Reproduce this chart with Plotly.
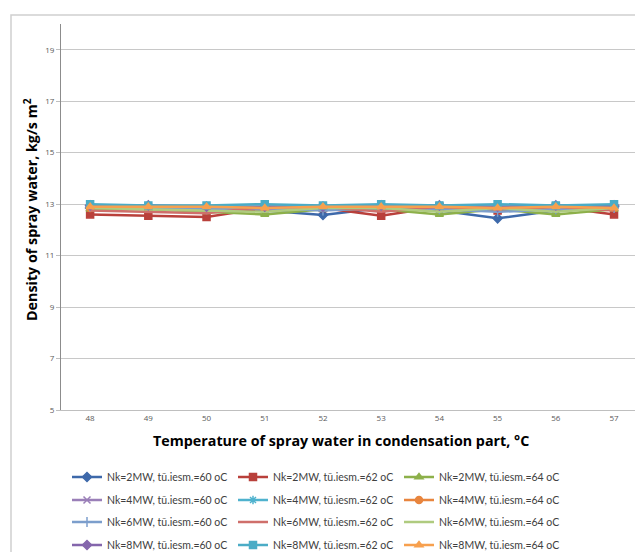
import plotly.graph_objects as go

temps = [48, 49, 50, 51, 52, 53, 54, 55, 56, 57]

names = [
    "Nk=2MW, tū.iesm.=60 oC", "Nk=2MW, tū.iesm.=62 oC", "Nk=2MW, tū.iesm.=64 oC",
    "Nk=4MW, tū.iesm.=60 oC", "Nk=4MW, tū.iesm.=62 oC", "Nk=4MW, tū.iesm.=64 oC",
    "Nk=6MW, tū.iesm.=60 oC", "Nk=6MW, tū.iesm.=62 oC", "Nk=6MW, tū.iesm.=64 oC",
    "Nk=8MW, tū.iesm.=60 oC", "Nk=8MW, tū.iesm.=62 oC", "Nk=8MW, tū.iesm.=64 oC",
]

s_2mw_60 = [12.85, 12.85, 12.80, 12.75, 12.58, 12.85, 12.75, 12.45, 12.75, 12.90]
s_2mw_62 = [12.60, 12.55, 12.50, 12.85, 12.85, 12.55, 12.90, 12.75, 12.90, 12.60]
s_2mw_64 = [12.80, 12.80, 12.70, 12.60, 12.80, 12.80, 12.60, 12.80, 12.60, 12.80]
s_4mw_60 = [12.90, 12.90, 12.85, 12.80, 12.85, 12.90, 12.95, 12.85, 12.90, 12.90]
s_4mw_62 = [12.95, 12.90, 12.90, 12.90, 12.90, 12.95, 12.90, 12.90, 12.90, 12.95]
s_4mw_64 = [12.85, 12.90, 12.85, 12.85, 12.90, 12.85, 12.85, 12.85, 12.90, 12.85]
s_6mw_60 = [12.90, 12.85, 12.80, 12.85, 12.75, 12.85, 12.80, 12.70, 12.80, 12.85]
s_6mw_62 = [12.75, 12.70, 12.65, 12.90, 12.90, 12.70, 12.90, 12.80, 12.90, 12.75]
s_6mw_64 = [12.85, 12.80, 12.75, 12.70, 12.85, 12.85, 12.70, 12.85, 12.70, 12.85]
s_8mw_60 = [12.95, 12.95, 12.90, 12.90, 12.90, 12.95, 12.95, 12.90, 12.95, 12.95]
s_8mw_62 = [13.00, 12.95, 12.95, 13.00, 12.95, 13.00, 12.95, 13.00, 12.95, 13.00]
s_8mw_64 = [12.90, 12.90, 12.90, 12.85, 12.90, 12.90, 12.90, 12.85, 12.90, 12.85]

series = [s_2mw_60, s_2mw_62, s_2mw_64, s_4mw_60, s_4mw_62, s_4mw_64,
          s_6mw_60, s_6mw_62, s_6mw_64, s_8mw_60, s_8mw_62, s_8mw_64]

y_ticks = [5, 7, 9, 11, 13, 15, 17, 19]

colors = ["#3E69AA", "#B9403B", "#8DB04A", "#9A7FB8", "#4FB2CE", "#E8853E",
          "#7C9ECC", "#CF6F6B", "#AFCB7F", "#8466AC", "#4BACC6", "#F7A04E"]
symbols = ["diamond", "square", "triangle-up", "x-thin", "asterisk", "circle",
           "cross-thin", None, None, "diamond", "square", "triangle-up"]

FONT = "Open Sans"

fig = go.Figure()
legend_ids = ["legend", "legend2", "legend3", "legend4"]
for i, (nm, ys) in enumerate(zip(names, series)):
    sym = symbols[i]
    mode = "lines+markers" if sym else "lines"
    marker = dict(color=colors[i], size=7, symbol=sym or "circle",
                  line=dict(color=colors[i], width=1.5))
    fig.add_trace(go.Scatter(
        x=[str(t) for t in temps], y=ys, name=nm, mode=mode,
        line=dict(color=colors[i], width=2.5), marker=marker,
        legend=legend_ids[i // 3],
    ))

W, H = 635, 552
L, R, T, B = 61, 0, 24, 142
pw, ph = W - L - R, H - T - B

def px_x(x):
    return (x - L) / pw

def px_y(y):
    return 1 - (y - T) / ph

leg_common = dict(orientation="h", xanchor="left", yanchor="middle",
                  xref="container", yref="container",
                  font=dict(family="Lato", size=10.5, color="#404040"),
                  entrywidth=121, entrywidthmode="pixels",
                  itemwidth=30, bgcolor="rgba(0,0,0,0)", traceorder="normal")
row_y = [477, 500, 522, 545]
legends = {}
for k, lid in enumerate(legend_ids):
    legends[lid] = dict(leg_common, x=67 / W, y=1 - row_y[k] / H)

fig.update_layout(
    width=W, height=H,
    margin=dict(l=L, r=R, t=T, b=B, autoexpand=False),
    paper_bgcolor="white", plot_bgcolor="white",
    font=dict(family=FONT, color="#404040"),
    showlegend=True,
    xaxis=dict(type="category", range=[-0.5, 9.36], showgrid=False,
               showline=True, linecolor="#BFBFBF", linewidth=1,
               ticks="", tickfont=dict(size=8, color="#595959"),
               zeroline=False, fixedrange=True),
    yaxis=dict(range=[5, 20], tickvals=y_ticks, showgrid=True,
               gridcolor="#C8C8C8", gridwidth=1,
               showline=True, linecolor="#8C8C8C", linewidth=1,
               ticks="outside", ticklen=4, tickcolor="#BFBFBF",
               tickfont=dict(size=8, color="#595959"),
               zeroline=False, fixedrange=True),
    annotations=[
        dict(text="Temperature of spray water in condensation part, °C",
             xref="paper", yref="paper", x=px_x(341), y=px_y(440),
             xanchor="center", yanchor="middle", showarrow=False,
             font=dict(family=FONT, size=14.3, color="#000000", weight="bold")),
        dict(text="Density of spray water, kg/s m<sup>2</sup>",
             xref="paper", yref="paper", x=px_x(31), y=px_y(210),
             xanchor="center", yanchor="middle", showarrow=False, textangle=-90,
             font=dict(family=FONT, size=14.3, color="#000000", weight="bold")),
    ],
    shapes=[dict(type="rect", xref="paper", yref="paper",
                 x0=px_x(11), y0=px_y(H + 20), x1=px_x(W + 20), y1=px_y(15),
                 line=dict(color="#D0D0D0", width=1.5), fillcolor="rgba(0,0,0,0)",
                 layer="below")],
    **legends,
)

fig.write_html("out.html", config={"displayModeBar": False},
               post_script="document.body.style.margin='0';document.body.style.overflow='hidden';")
